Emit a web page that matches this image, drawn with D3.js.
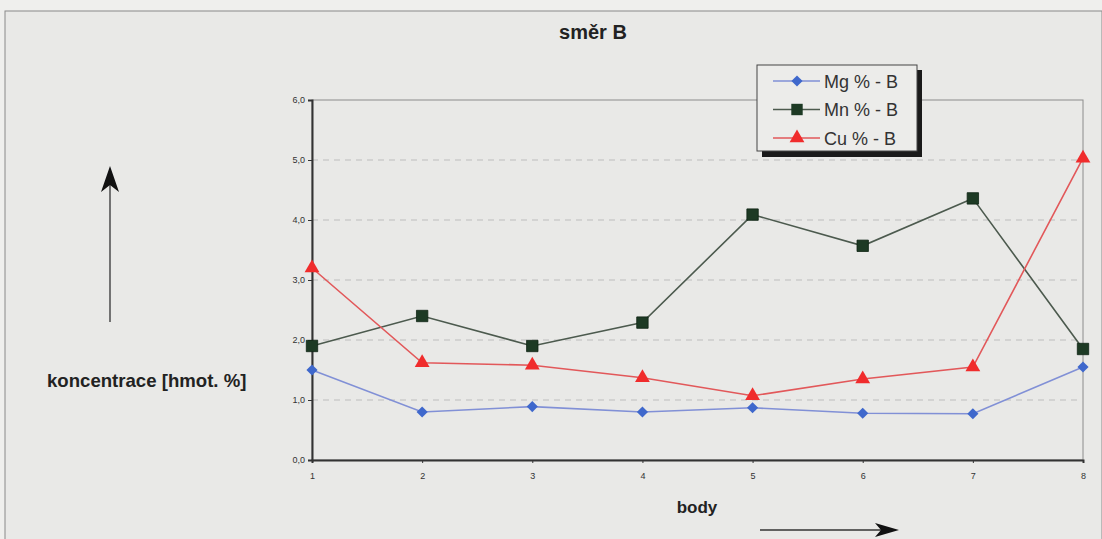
<!DOCTYPE html>
<html>
<head>
<meta charset="utf-8">
<script src="https://cdn.jsdelivr.net/npm/d3@7"></script>
<style>
  body { margin: 0; background: #efefed; }
  svg { display: block; font-family: "Liberation Sans", Arial, sans-serif; }
</style>
</head>
<body>
<svg id="chart" width="1102" height="539"></svg>
<script>
/* DATA */
var points = [1, 2, 3, 4, 5, 6, 7, 8];
var mg = [1.50, 0.80, 0.89, 0.80, 0.87, 0.78, 0.77, 1.55];
var mn = [1.90, 2.40, 1.90, 2.29, 4.09, 3.57, 4.36, 1.85];
var cu = [3.20, 1.62, 1.58, 1.37, 1.07, 1.35, 1.55, 5.03];
var yTicks = [0, 1, 2, 3, 4, 5, 6];
var seriesNames = ['Mg % - B', 'Mn % - B', 'Cu % - B'];

var series = [
    { name: seriesNames[0], values: mg, line: '#8190d6', fill: '#3f68cc', shape: d3.symbolSquare, size: 62, rot: 45 },
    { name: seriesNames[1], values: mn, line: '#4c5a4e', fill: '#1d3a24', shape: d3.symbolSquare, size: 130, rot: 0 },
    { name: seriesNames[2], values: cu, line: '#e2585a', fill: '#f02c2c', shape: d3.symbolTriangle, size: 95, rot: 0 }
];

var svg = d3.select('#chart');

// outer frame
svg.append('rect')
    .attr('x', 5).attr('y', 11)
    .attr('width', 1097).attr('height', 540)
    .style('fill', '#e9e9e7')
    .style('stroke', '#8a8a8a')
    .style('stroke-width', 1);

svg.append('text')
    .attr('x', 593).attr('y', 39)
    .style('text-anchor', 'middle')
    .style('font-weight', 'bold')
    .style('font-size', '20px')
    .style('fill', '#222')
    .text('směr B');

var margin = { left: 312, top: 100, right: 1083, bottom: 460 };

var x = d3.scaleLinear().domain([1, 8]).range([margin.left, margin.right]);
var y = d3.scaleLinear().domain([0, 6]).range([margin.bottom, margin.top]);

// plot border (top/right thin)
svg.append('rect')
    .attr('x', margin.left).attr('y', margin.top)
    .attr('width', margin.right - margin.left)
    .attr('height', margin.bottom - margin.top)
    .style('fill', 'none')
    .style('stroke', '#8c8c8c')
    .style('stroke-width', 1);

// grid
svg.append('g').selectAll('line')
    .data(yTicks.filter(function(d) { return d > 0 && d < 6; }))
    .enter().append('line')
    .attr('x1', margin.left).attr('x2', margin.right)
    .attr('y1', function(d) { return y(d); })
    .attr('y2', function(d) { return y(d); })
    .style('stroke', '#bdbdbd')
    .style('stroke-dasharray', '6,5')
    .style('stroke-width', 1);

var yAxis = svg.append('g')
    .attr('transform', 'translate(' + margin.left + ',0)')
    .call(d3.axisLeft(y).tickValues(yTicks).tickSize(4)
        .tickFormat(function(d) { return d3.format('.1f')(d).replace('.', ','); }));

var xAxis = svg.append('g')
    .attr('transform', 'translate(0,' + margin.bottom + ')')
    .call(d3.axisBottom(x).tickValues(points).tickSize(3).tickPadding(10)
        .tickFormat(d3.format('d')));

[yAxis, xAxis].forEach(function(ax) {
    ax.select('.domain').style('stroke', '#333').style('stroke-width', 2);
    ax.selectAll('.tick line').style('stroke', '#333');
    ax.selectAll('.tick text').style('font-size', '9px').style('fill', '#333')
        .style('font-family', '"Liberation Sans", Arial, sans-serif');
});

// lines and markers
var line = d3.line()
    .x(function(d, i) { return x(points[i]); })
    .y(function(d) { return y(d); });

series.forEach(function(s) {
    svg.append('path')
        .datum(s.values)
        .attr('d', line)
        .style('fill', 'none')
        .style('stroke', s.line)
        .style('stroke-width', 1.6);
});

series.forEach(function(s) {
    svg.append('g').selectAll('path')
        .data(s.values)
        .enter().append('path')
        .attr('d', d3.symbol().type(s.shape).size(s.size))
        .attr('transform', function(d, i) {
            return 'translate(' + x(points[i]) + ',' + y(d) + ') rotate(' + s.rot + ')';
        })
        .style('fill', s.fill)
        .style('stroke', s.size > 100 && s.shape === d3.symbolSquare ? '#0f2414' : 'none')
        .style('stroke-width', 0.8);
});

// legend
var lg = svg.append('g').attr('transform', 'translate(757,65)');
lg.append('rect')
    .attr('x', 5).attr('y', 5).attr('width', 160).attr('height', 87)
    .style('fill', '#1a1a1a');
lg.append('rect')
    .attr('x', 0).attr('y', 0).attr('width', 160).attr('height', 86)
    .style('fill', '#ececea')
    .style('stroke', '#444')
    .style('stroke-width', 1);

var items = lg.selectAll('g.legendg')
    .data(series)
    .enter().append('g')
    .attr('class', 'legendg')
    .attr('transform', function(d, i) { return 'translate(0,' + (16 + i * 28.5) + ')'; });

items.append('line')
    .attr('x1', 16).attr('x2', 63)
    .style('stroke', function(d) { return d.line; })
    .style('stroke-width', 1.6);
items.append('path')
    .attr('d', function(d) { return d3.symbol().type(d.shape).size(d.size)(); })
    .attr('transform', function(d) { return 'translate(40,0) rotate(' + d.rot + ')'; })
    .style('fill', function(d) { return d.fill; });
items.append('text')
    .attr('x', 67).attr('y', 6.5)
    .style('font-size', '18px')
    .style('fill', '#333')
    .text(function(d) { return d.name; });

// axis titles and arrows
svg.append('line')
    .attr('x1', 110).attr('y1', 322).attr('x2', 110).attr('y2', 180)
    .style('stroke', '#333').style('stroke-width', 1.3);
svg.append('path')
    .attr('d', 'M110,166 L119,192 L110,185 L101,192 Z')
    .style('fill', '#111');

svg.append('line')
    .attr('x1', 760).attr('y1', 530).attr('x2', 885).attr('y2', 530)
    .style('stroke', '#333').style('stroke-width', 1.3);
svg.append('path')
    .attr('d', 'M899,530 L875,537 L881,530 L875,523 Z')
    .style('fill', '#111');

svg.append('text')
    .attr('x', 47).attr('y', 387)
    .style('font-weight', 'bold')
    .style('font-size', '18.6px')
    .style('fill', '#222')
    .text('koncentrace [hmot. %]');

svg.append('text')
    .attr('x', 697).attr('y', 513)
    .style('text-anchor', 'middle')
    .style('font-weight', 'bold')
    .style('font-size', '17px')
    .style('fill', '#222')
    .text('body');
</script>
</body>
</html>
